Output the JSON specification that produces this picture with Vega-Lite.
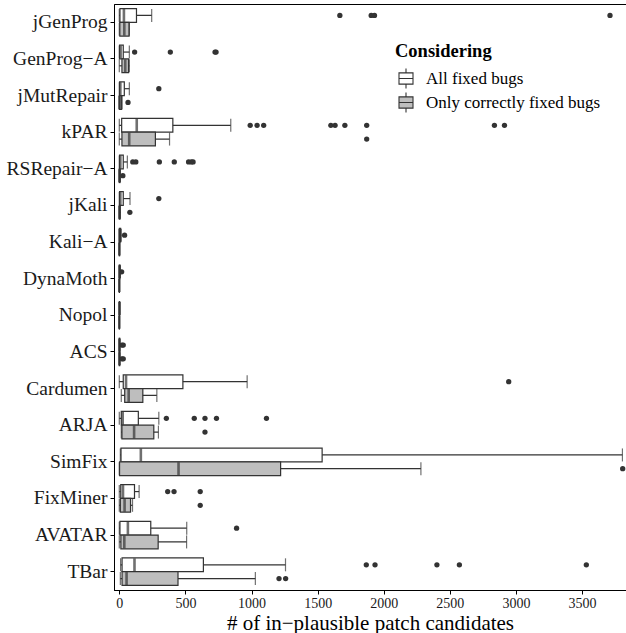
{
  "$schema": "https://vega.github.io/schema/vega-lite/v6.json",
  "width": 626,
  "height": 633,
  "autosize": {"type": "fit", "contains": "padding"},
  "padding": {"left": 6, "top": 4, "right": 0, "bottom": 0},
  "background": "white",
  "config": {
    "font": "Liberation Serif",
    "view": {"stroke": "black", "strokeWidth": 1},
    "axis": {"grid": false, "domainColor": "black", "tickColor": "black", "labelColor": "#1a1a1a", "titleColor": "black"}
  },
  "datasets": {
    "boxes": [
      {"tool": "jGenProg", "type": "All fixed bugs", "lo": 0, "q1": 5, "med": 35, "q3": 130, "hi": 245},
      {"tool": "jGenProg", "type": "Only correctly fixed bugs", "lo": 0, "q1": 4, "med": 38, "q3": 74, "hi": 76},
      {"tool": "GenProg−A", "type": "All fixed bugs", "lo": 0, "q1": 2, "med": 10, "q3": 30, "hi": 76},
      {"tool": "GenProg−A", "type": "Only correctly fixed bugs", "lo": 0, "q1": 20, "med": 45, "q3": 70, "hi": 76},
      {"tool": "jMutRepair", "type": "All fixed bugs", "lo": 0, "q1": 2, "med": 8, "q3": 38, "hi": 76},
      {"tool": "jMutRepair", "type": "Only correctly fixed bugs", "lo": 0, "q1": 0, "med": 3, "q3": 18, "hi": 20},
      {"tool": "kPAR", "type": "All fixed bugs", "lo": 0, "q1": 18, "med": 132, "q3": 405, "hi": 843},
      {"tool": "kPAR", "type": "Only correctly fixed bugs", "lo": 0, "q1": 20, "med": 75, "q3": 273, "hi": 380},
      {"tool": "RSRepair−A", "type": "All fixed bugs", "lo": 0, "q1": 2, "med": 8, "q3": 30, "hi": 61},
      {"tool": "RSRepair−A", "type": "Only correctly fixed bugs", "lo": 0, "q1": 0, "med": 2, "q3": 5, "hi": 8},
      {"tool": "jKali", "type": "All fixed bugs", "lo": 0, "q1": 2, "med": 8, "q3": 30, "hi": 81},
      {"tool": "jKali", "type": "Only correctly fixed bugs", "lo": 0, "q1": 0, "med": 2, "q3": 5, "hi": 8},
      {"tool": "Kali−A", "type": "All fixed bugs", "lo": 0, "q1": 1, "med": 3, "q3": 10, "hi": 15},
      {"tool": "Kali−A", "type": "Only correctly fixed bugs", "lo": 0, "q1": 0, "med": 0, "q3": 2, "hi": 3},
      {"tool": "DynaMoth", "type": "All fixed bugs", "lo": 0, "q1": 0, "med": 2, "q3": 5, "hi": 8},
      {"tool": "DynaMoth", "type": "Only correctly fixed bugs", "lo": 0, "q1": 0, "med": 0, "q3": 1, "hi": 2},
      {"tool": "Nopol", "type": "All fixed bugs", "lo": 0, "q1": 0, "med": 1, "q3": 3, "hi": 5},
      {"tool": "Nopol", "type": "Only correctly fixed bugs", "lo": 0, "q1": 0, "med": 0, "q3": 1, "hi": 2},
      {"tool": "ACS", "type": "All fixed bugs", "lo": 0, "q1": 0, "med": 1, "q3": 3, "hi": 5},
      {"tool": "ACS", "type": "Only correctly fixed bugs", "lo": 0, "q1": 0, "med": 1, "q3": 3, "hi": 5},
      {"tool": "Cardumen", "type": "All fixed bugs", "lo": 0, "q1": 30, "med": 51, "q3": 481, "hi": 967},
      {"tool": "Cardumen", "type": "Only correctly fixed bugs", "lo": 15, "q1": 41, "med": 71, "q3": 178, "hi": 284},
      {"tool": "ARJA", "type": "All fixed bugs", "lo": 0, "q1": 15, "med": 26, "q3": 144, "hi": 299},
      {"tool": "ARJA", "type": "Only correctly fixed bugs", "lo": 15, "q1": 20, "med": 112, "q3": 261, "hi": 296},
      {"tool": "SimFix", "type": "All fixed bugs", "lo": 8, "q1": 13, "med": 163, "q3": 1534, "hi": 3805},
      {"tool": "SimFix", "type": "Only correctly fixed bugs", "lo": 0, "q1": 2, "med": 448, "q3": 1220, "hi": 2281},
      {"tool": "FixMiner", "type": "All fixed bugs", "lo": 0, "q1": 11, "med": 28, "q3": 115, "hi": 150},
      {"tool": "FixMiner", "type": "Only correctly fixed bugs", "lo": 0, "q1": 8, "med": 40, "q3": 85, "hi": 100},
      {"tool": "AVATAR", "type": "All fixed bugs", "lo": 0, "q1": 5, "med": 65, "q3": 238, "hi": 510},
      {"tool": "AVATAR", "type": "Only correctly fixed bugs", "lo": 0, "q1": 12, "med": 38, "q3": 294, "hi": 509},
      {"tool": "TBar", "type": "All fixed bugs", "lo": 10, "q1": 21, "med": 115, "q3": 636, "hi": 1257},
      {"tool": "TBar", "type": "Only correctly fixed bugs", "lo": 8, "q1": 21, "med": 55, "q3": 444, "hi": 1029}
    ],
    "outliers": [
      {"tool": "jGenProg", "type": "All fixed bugs", "value": 1668},
      {"tool": "jGenProg", "type": "All fixed bugs", "value": 1905},
      {"tool": "jGenProg", "type": "All fixed bugs", "value": 1930},
      {"tool": "jGenProg", "type": "All fixed bugs", "value": 3711},
      {"tool": "GenProg−A", "type": "All fixed bugs", "value": 116},
      {"tool": "GenProg−A", "type": "All fixed bugs", "value": 386},
      {"tool": "GenProg−A", "type": "All fixed bugs", "value": 724},
      {"tool": "GenProg−A", "type": "All fixed bugs", "value": 732},
      {"tool": "jMutRepair", "type": "All fixed bugs", "value": 299},
      {"tool": "jMutRepair", "type": "Only correctly fixed bugs", "value": 66},
      {"tool": "kPAR", "type": "All fixed bugs", "value": 990},
      {"tool": "kPAR", "type": "All fixed bugs", "value": 1042},
      {"tool": "kPAR", "type": "All fixed bugs", "value": 1092},
      {"tool": "kPAR", "type": "All fixed bugs", "value": 1600},
      {"tool": "kPAR", "type": "All fixed bugs", "value": 1632},
      {"tool": "kPAR", "type": "All fixed bugs", "value": 1706},
      {"tool": "kPAR", "type": "All fixed bugs", "value": 1871},
      {"tool": "kPAR", "type": "All fixed bugs", "value": 2837},
      {"tool": "kPAR", "type": "All fixed bugs", "value": 2913},
      {"tool": "kPAR", "type": "Only correctly fixed bugs", "value": 1871},
      {"tool": "RSRepair−A", "type": "All fixed bugs", "value": 102},
      {"tool": "RSRepair−A", "type": "All fixed bugs", "value": 125},
      {"tool": "RSRepair−A", "type": "All fixed bugs", "value": 303},
      {"tool": "RSRepair−A", "type": "All fixed bugs", "value": 416},
      {"tool": "RSRepair−A", "type": "All fixed bugs", "value": 524},
      {"tool": "RSRepair−A", "type": "All fixed bugs", "value": 545},
      {"tool": "RSRepair−A", "type": "All fixed bugs", "value": 558},
      {"tool": "RSRepair−A", "type": "Only correctly fixed bugs", "value": 27},
      {"tool": "jKali", "type": "All fixed bugs", "value": 299},
      {"tool": "jKali", "type": "Only correctly fixed bugs", "value": 80},
      {"tool": "Kali−A", "type": "All fixed bugs", "value": 40},
      {"tool": "DynaMoth", "type": "All fixed bugs", "value": 18},
      {"tool": "ACS", "type": "All fixed bugs", "value": 20},
      {"tool": "ACS", "type": "All fixed bugs", "value": 30},
      {"tool": "ACS", "type": "Only correctly fixed bugs", "value": 20},
      {"tool": "ACS", "type": "Only correctly fixed bugs", "value": 30},
      {"tool": "Cardumen", "type": "All fixed bugs", "value": 2945},
      {"tool": "ARJA", "type": "All fixed bugs", "value": 356},
      {"tool": "ARJA", "type": "All fixed bugs", "value": 567},
      {"tool": "ARJA", "type": "All fixed bugs", "value": 648},
      {"tool": "ARJA", "type": "All fixed bugs", "value": 735},
      {"tool": "ARJA", "type": "All fixed bugs", "value": 1113},
      {"tool": "ARJA", "type": "Only correctly fixed bugs", "value": 648},
      {"tool": "SimFix", "type": "Only correctly fixed bugs", "value": 3807},
      {"tool": "FixMiner", "type": "All fixed bugs", "value": 366},
      {"tool": "FixMiner", "type": "All fixed bugs", "value": 414},
      {"tool": "FixMiner", "type": "All fixed bugs", "value": 612},
      {"tool": "FixMiner", "type": "Only correctly fixed bugs", "value": 612},
      {"tool": "AVATAR", "type": "All fixed bugs", "value": 887},
      {"tool": "TBar", "type": "All fixed bugs", "value": 1868},
      {"tool": "TBar", "type": "All fixed bugs", "value": 1934},
      {"tool": "TBar", "type": "All fixed bugs", "value": 2402},
      {"tool": "TBar", "type": "All fixed bugs", "value": 2572},
      {"tool": "TBar", "type": "All fixed bugs", "value": 3532},
      {"tool": "TBar", "type": "Only correctly fixed bugs", "value": 1208},
      {"tool": "TBar", "type": "Only correctly fixed bugs", "value": 1258}
    ]
  },
  "encoding": {
    "y": {
      "field": "tool",
      "type": "nominal",
      "sort": ["jGenProg", "GenProg−A", "jMutRepair", "kPAR", "RSRepair−A", "jKali", "Kali−A", "DynaMoth", "Nopol", "ACS", "Cardumen", "ARJA", "SimFix", "FixMiner", "AVATAR", "TBar"],
      "scale": {"paddingInner": 0.25, "paddingOuter": 0.125},
      "axis": {"title": null, "labelFontSize": 19.5, "tickSize": 4, "labelPadding": 3}
    },
    "yOffset": {
      "field": "type",
      "type": "nominal",
      "sort": ["All fixed bugs", "Only correctly fixed bugs"]
    }
  },
  "layer": [
    {
      "data": {"name": "boxes"},
      "mark": {"type": "rule", "color": "#333333", "strokeWidth": 1.2},
      "encoding": {
        "x": {
          "field": "lo",
          "type": "quantitative",
          "scale": {"domain": [-40, 3832], "nice": false, "zero": false},
          "axis": {
            "title": "# of in−plausible patch candidates",
            "values": [0, 500, 1000, 1500, 2000, 2500, 3000, 3500],
            "format": "d",
            "labelFontSize": 14,
            "titleFontSize": 21,
            "titleFontWeight": "normal",
            "tickSize": 4,
            "labelPadding": 2,
            "titlePadding": 2
          }
        },
        "x2": {"field": "hi"}
      }
    },
    {
      "data": {"name": "boxes"},
      "mark": {"type": "bar", "stroke": "#333333", "strokeWidth": 1.2},
      "encoding": {
        "x": {"field": "q1", "type": "quantitative"},
        "x2": {"field": "q3"},
        "fill": {
          "field": "type",
          "type": "nominal",
          "scale": {"domain": ["All fixed bugs", "Only correctly fixed bugs"], "range": ["#ffffff", "#bebebe"]},
          "legend": {
            "title": "Considering",
            "orient": "none",
            "legendX": 281,
            "legendY": 38,
            "symbolType": "M-0.7,-0.56H0.7V0.56H-0.7Z M-0.7,0H0.7 M0,-0.56V-1 M0,0.56V1",
            "symbolSize": 400,
            "symbolStrokeColor": "#333333",
            "symbolStrokeWidth": 1.1,
            "labelFontSize": 17,
            "labelLimit": 400,
            "titleFontSize": 18.5,
            "titleFontWeight": "bold",
            "labelOffset": 9,
            "rowPadding": -6,
            "titlePadding": 7,
            "titleColor": "black",
            "labelColor": "black"
          }
        }
      }
    },
    {
      "data": {"name": "boxes"},
      "mark": {"type": "tick", "color": "#333333", "thickness": 1.2, "size": 13},
      "encoding": {"x": {"field": "lo", "type": "quantitative"}}
    },
    {
      "data": {"name": "boxes"},
      "mark": {"type": "tick", "color": "#333333", "thickness": 1.2, "size": 13},
      "encoding": {"x": {"field": "hi", "type": "quantitative"}}
    },
    {
      "data": {"name": "boxes"},
      "mark": {"type": "tick", "color": "#333333", "thickness": 2.6, "size": 13},
      "encoding": {"x": {"field": "med", "type": "quantitative"}}
    },
    {
      "data": {"name": "outliers"},
      "mark": {"type": "point", "filled": true, "color": "#333333", "size": 28, "opacity": 1},
      "encoding": {"x": {"field": "value", "type": "quantitative"}}
    }
  ]
}
